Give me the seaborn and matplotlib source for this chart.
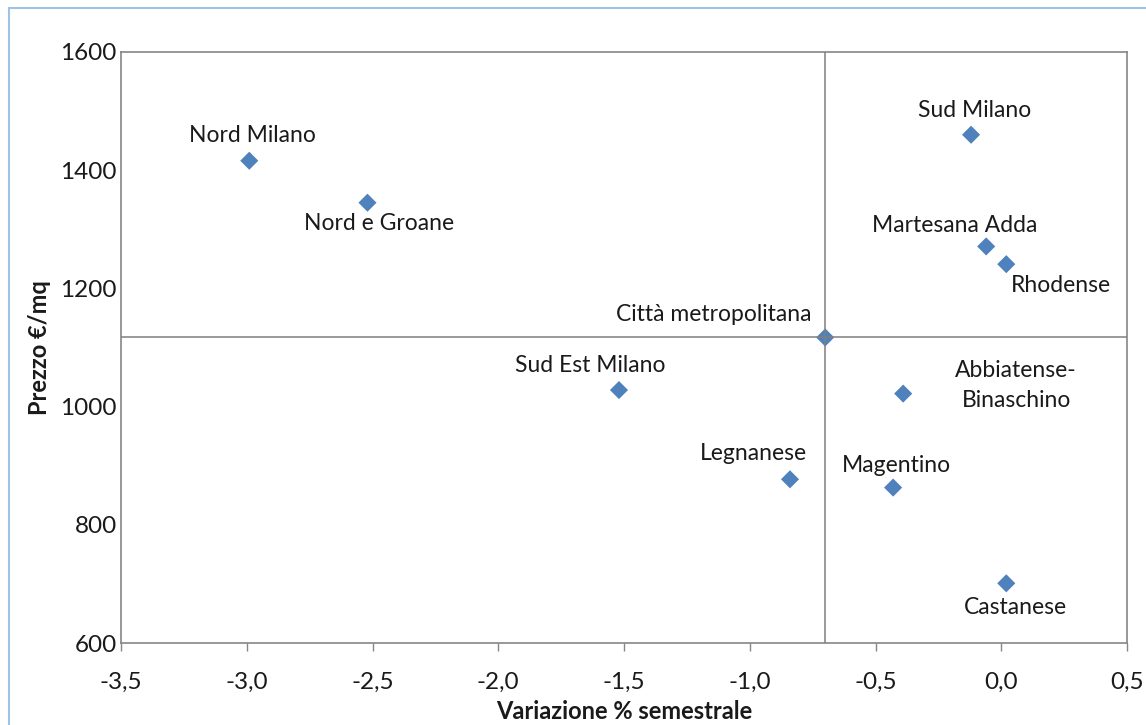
import numpy as np
import pandas as pd
import matplotlib
matplotlib.use('Agg')
import matplotlib.pyplot as plt
from matplotlib.patches import Rectangle
from matplotlib.ticker import FuncFormatter
import seaborn as sns

# Dati
zone = ['Nord Milano', 'Nord e Groane', 'Sud Milano', 'Martesana Adda', 'Rhodense',
        'Città metropolitana', 'Sud Est Milano', 'Abbiatense-\nBinaschino',
        'Legnanese', 'Magentino', 'Castanese']
variazione = [-2.99, -2.52, -0.12, -0.06, 0.02, -0.70, -1.52, -0.39, -0.84, -0.43, 0.02]
prezzo = [1416, 1345, 1460, 1271, 1241, 1117, 1028, 1022, 877, 863, 701]
x_ticks = [-3.5, -3.0, -2.5, -2.0, -1.5, -1.0, -0.5, 0.0, 0.5]
y_ticks = [600, 800, 1000, 1200, 1400, 1600]
riferimento = 'Città metropolitana'

# offset delle etichette in pixel rispetto al punto
label_offsets = [(3, 25), (12, -21), (4, 24), (-31, 21), (55, -21), (-111, 23),
                 (-29, 25), (113, 8), (-37, 26), (3, 22), (9, -24)]

df = pd.DataFrame({'zona': zone, 'variazione': variazione, 'prezzo': prezzo})

sns.set_style('white')
plt.rcParams['font.family'] = ['Lato', 'DejaVu Sans']

fig = plt.figure(figsize=(11.46, 7.25), dpi=100)
ax = fig.add_axes([121 / 1146, 1 - 643 / 725, (1127 - 121) / 1146, (643 - 52) / 725])

# bordo esterno azzurro
fig.patches.append(Rectangle((9 / 1146, -0.05), 1.2, 1 - 8 / 725 + 0.05,
                             transform=fig.transFigure, fill=False,
                             edgecolor='#9DC3E6', linewidth=1.5))

sns.scatterplot(data=df, x='variazione', y='prezzo', marker='D', s=85,
                color='#4F81BD', edgecolor='none', ax=ax, zorder=3)

ref = df[df['zona'] == riferimento].iloc[0]
ax.axvline(ref['variazione'], color='#7F7F7F', linewidth=1.1, zorder=4)
ax.axhline(ref['prezzo'], color='#7F7F7F', linewidth=1.1, zorder=4)

for (_, row), (dx, dy) in zip(df.iterrows(), label_offsets):
    ax.annotate(row['zona'], (row['variazione'], row['prezzo']),
                xytext=(dx, dy), textcoords='offset pixels',
                ha='center', va='center', fontsize=16.5, color='#1a1a1a',
                multialignment='center', linespacing=1.55)

ax.set_xlim(-3.5, 0.5)
ax.set_ylim(600, 1600)
ax.set_xticks(x_ticks)
ax.set_yticks(y_ticks)
ax.xaxis.set_major_formatter(FuncFormatter(lambda v, p: f'{v:.1f}'.replace('.', ',')))
ax.tick_params(axis='x', direction='out', length=6, width=1, color='#868686',
               labelsize=17.5, labelcolor='#1a1a1a', pad=15, bottom=True)
ax.tick_params(axis='y', length=0, labelsize=17.5, labelcolor='#1a1a1a', pad=3)

for sp in ax.spines.values():
    sp.set_color('#868686')
    sp.set_linewidth(1.2)

ax.set_xlabel('Variazione % semestrale', fontsize=17, fontweight='bold',
              color='#1a1a1a', labelpad=5)
ax.set_ylabel('Prezzo €/mq', fontsize=17, fontweight='bold',
              color='#1a1a1a', labelpad=7)

plt.savefig('out.png', dpi=100)
plt.close()
